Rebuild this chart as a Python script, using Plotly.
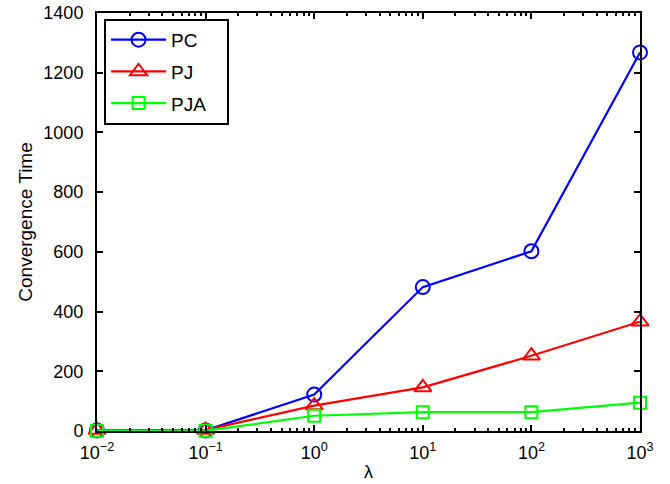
import plotly.graph_objects as go

lam = [0.01, 0.1, 1, 10, 100, 1000]
pc = [2, 2, 122, 482, 602, 1268]
pj = [3, 3, 85, 146, 252, 366]
pja = [1, 1, 51, 63, 63, 95]

x_tickvals = [0.01, 0.1, 1, 10, 100, 1000]
x_ticktext = ["10<sup>−2</sup>", "10<sup>−1</sup>", "10<sup>0</sup>",
              "10<sup>1</sup>", "10<sup>2</sup>", "10<sup>3</sup>"]
y_tickvals = [0, 200, 400, 600, 800, 1000, 1200, 1400]

minor_vals = [m * d for d in [0.01, 0.1, 1, 10, 100] for m in range(2, 10)]

font = "Liberation Sans, Arial, Helvetica, sans-serif"
pad = "\u00a0\u00a0\u00a0"  # trailing padding widens the legend box like the reference

fig = go.Figure()
series = [
    ("PC", pc, "#0000FF", "circle-open", 14),
    ("PJ", pj, "#FF0000", "triangle-up-open", 15),
    ("PJA", pja, "#00FF00", "square-open", 12),
]
for i, (name, ys, col, sym, sz) in enumerate(series):
    fig.add_trace(go.Scatter(
        x=lam, y=ys, name=name + pad, mode="lines+markers",
        line=dict(color=col, width=2.2),
        marker=dict(symbol=sym, size=sz, color=col, line=dict(color=col, width=2)),
        legendgroup=name, cliponaxis=False,
    ))

fig.update_layout(
    width=670, height=484,
    margin=dict(l=97, r=30, t=13, b=53),
    paper_bgcolor="white", plot_bgcolor="white",
    font=dict(family=font, size=18, color="black"),
    showlegend=True,
    legend=dict(
        x=0.013, y=0.986, xanchor="left", yanchor="top",
        bgcolor="white", bordercolor="black", borderwidth=2,
        font=dict(size=19), tracegroupgap=4, traceorder="grouped",
        itemwidth=55,
    ),
)
fig.update_xaxes(
    type="log", range=[-2, 3],
    tickvals=x_tickvals, ticktext=x_ticktext,
    ticks="inside", ticklen=6, tickwidth=1.5, tickcolor="black",
    showline=True, linecolor="black", linewidth=2, mirror="ticks",
    showgrid=False, zeroline=False, automargin=False,
    minor=dict(tickvals=minor_vals, ticks="inside", ticklen=3, tickcolor="black", showgrid=False),
    title=dict(text="λ", font=dict(size=18), standoff=4),
    tickfont=dict(size=18),
    ticklabelstandoff=4,
)
fig.update_yaxes(
    range=[0, 1400], tickvals=y_tickvals,
    ticks="inside", ticklen=6, tickwidth=1.5, tickcolor="black",
    showline=True, linecolor="black", linewidth=2, mirror="ticks",
    showgrid=False, zeroline=False, automargin=False,
    title=dict(text="Convergence Time", font=dict(size=19), standoff=6),
    tickfont=dict(size=18),
    ticklabelstandoff=8,
)

fig.write_html("out.html", config={"displayModeBar": False},
               post_script="document.body.style.margin='0';document.body.style.overflow='hidden';")
